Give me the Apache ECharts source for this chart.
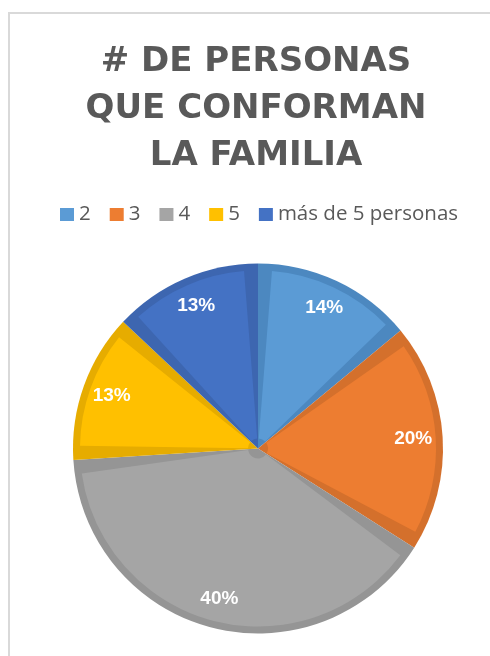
<!DOCTYPE html>
<html>
<head>
<meta charset="utf-8">
<script src="https://cdn.jsdelivr.net/npm/echarts@6/dist/echarts.min.js"></script>
<style>html,body{margin:0;padding:0;background:#fff;}#c{width:490px;height:656px;}</style>
</head>
<body>
<div id="c"></div>
<script>
const titleLines = ['# DE PERSONAS', 'QUE CONFORMAN', 'LA FAMILIA'];
const categories = ['2', '3', '4', '5', 'más de 5 personas'];
const values = [14, 20, 40, 13, 13];
const fillColors = ['#5B9BD5', '#ED7D31', '#A5A5A5', '#FFC000', '#4472C4'];
const edgeColors = ['#4C88C0', '#D4702C', '#959595', '#E6AC00', '#3D66B0'];

const chart = echarts.init(document.getElementById('c'), null, {renderer: 'canvas'});
const center = [258, 448.5];
const mk = (cols) => categories.map((n, i) => ({name: n, value: values[i], itemStyle: {color: cols[i]}}));

chart.setOption({
  animation: false,
  backgroundColor: '#ffffff',
  graphic: [{
    type: 'rect', z: 0, silent: true,
    shape: {x: 9, y: 13, width: 700, height: 800},
    style: {fill: 'none', stroke: '#d9d9d9', lineWidth: 2}
  }],
  title: {
    text: titleLines.join('\n'),
    left: 251, top: 34, textAlign: 'center',
    textStyle: {fontFamily: 'DejaVu Sans', fontWeight: 'bold', fontSize: 34, lineHeight: 47, color: '#595959'}
  },
  legend: {
    data: categories, left: 55, top: 199,
    itemWidth: 14, itemHeight: 13, itemGap: 19,
    icon: 'rect',
    textStyle: {fontFamily: 'Open Sans', fontSize: 20.5, color: '#595959'}
  },
  series: [
    {
      type: 'pie', name: 'fill', z: 3, center: center, radius: [10, 178],
      startAngle: 90, clockwise: true, padAngle: 9, silent: true,
      label: {show: false}, labelLine: {show: false},
      data: mk(fillColors)
    },
    {
      type: 'pie', name: 'edge', z: 2, center: center, radius: [0, 185],
      startAngle: 90, clockwise: true, silent: true,
      label: {show: false}, labelLine: {show: false},
      data: mk(edgeColors)
    },
    {
      type: 'pie', name: 'labels', z: 4, center: center, radius: [120, 185],
      startAngle: 90, clockwise: true, silent: true,
      itemStyle: {color: 'rgba(0,0,0,0)'},
      label: {show: true, position: 'inside', formatter: (p) => p.value + '%',
        color: '#ffffff', fontFamily: 'Liberation Sans', fontWeight: 'bold', fontSize: 19},
      labelLine: {show: false},
      data: categories.map((n, i) => ({name: n, value: values[i]}))
    }
  ]
});
</script>
</body>
</html>
